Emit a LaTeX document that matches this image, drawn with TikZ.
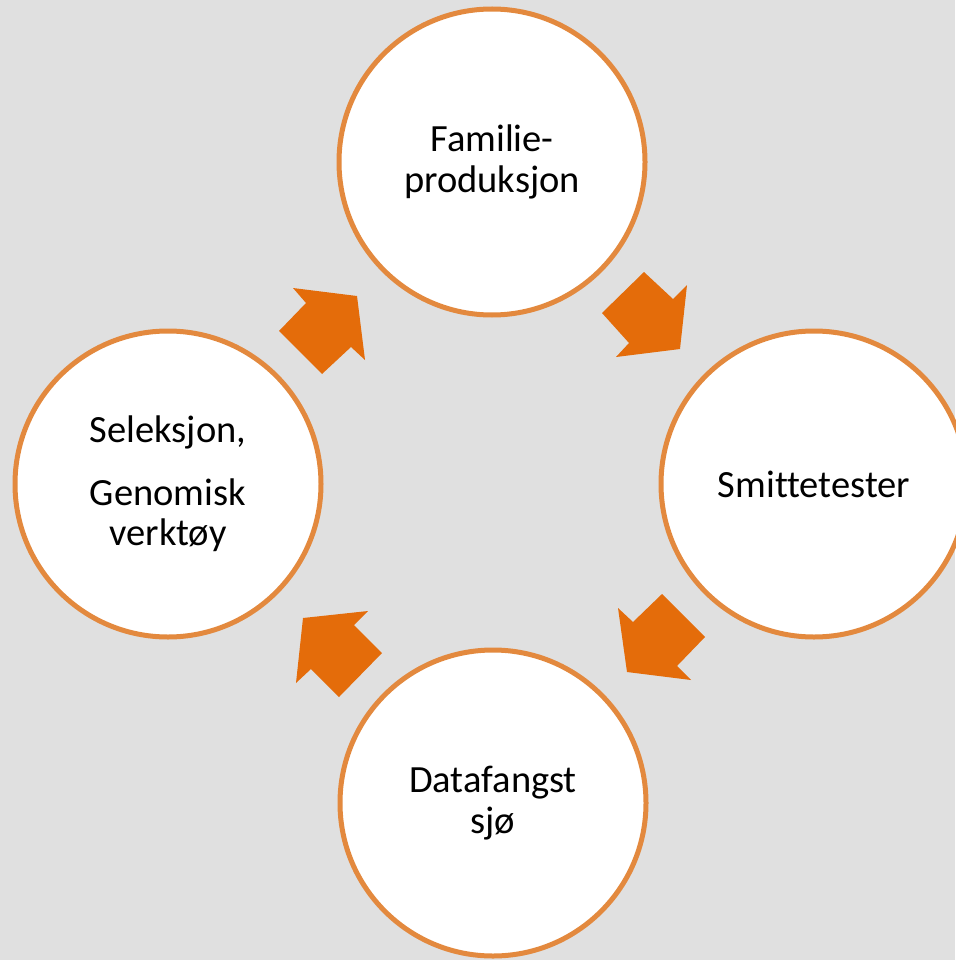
\documentclass[tikz,border=0pt]{standalone}
\usepackage{fontspec}
\setmainfont[Ligatures=NoCommon]{Carlito}
\definecolor{bg}{RGB}{224,224,224}
\definecolor{ring}{RGB}{227,137,62}
\definecolor{arr}{RGB}{228,108,10}
\begin{document}
\begin{tikzpicture}[x=1pt,y=-1pt,
  stage/.style={circle,draw=ring,line width=5pt,fill=white,minimum size=306pt,inner sep=0pt,align=center,font=\fontsize{38.5}{40.5}\selectfont},
  blockarrow/.style={fill=arr,draw=none}]
\fill[bg] (0,0) rectangle (955,960);
\useasboundingbox (0,0) rectangle (955,960);
\node[stage] (fam) at (492,162) {Familie-\\produksjon};
\node[stage] (smi) at (814,484) {Smittetester};
\node[stage] (dat) at (493,803) {Datafangst\\sjø};
\node[stage] (sel) at (168,484) {Seleksjon,\\[22pt]Genomisk\\verktøy};
% arrow sel -> fam
\fill[blockarrow] (293,288) -- (357,296) -- (365,360) -- (351,347) -- (322,374) -- (279,331) -- (306,303) -- cycle;
% arrow fam -> smi
\fill[blockarrow] (644,272) -- (673,299) -- (687,285) -- (680,349) -- (616,357) -- (629,343) -- (602,313) -- cycle;
% arrow smi -> dat
\fill[blockarrow] (662,594) -- (705,637) -- (677,666) -- (691,680) -- (627,672) -- (618,608) -- (633,622) -- cycle;
% arrow dat -> sel
\fill[blockarrow] (303,618) -- (368,611) -- (354,625) -- (382,653) -- (339,697) -- (311,669) -- (296,683) -- cycle;
\end{tikzpicture}
\end{document}
